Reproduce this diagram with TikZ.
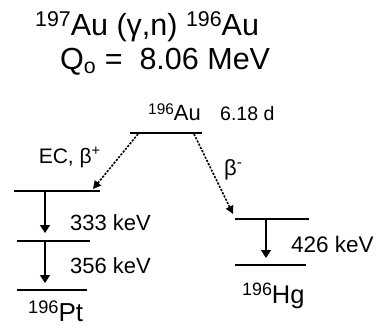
\documentclass[tikz,border=0pt]{standalone}
\usepackage{fontspec}
\setmainfont{Liberation Sans}
\usetikzlibrary{arrows.meta}
\newcommand\isup[1]{\raisebox{.3em}{\scalebox{0.7}{#1}}}
\newcommand\fs[1]{\fontsize{#1}{#1}\selectfont}
\begin{document}
\begin{tikzpicture}[x=1pt,y=-1pt,
  levelline/.style={line width=1.5pt},
  decay/.style={line width=1.6pt,dash pattern=on 2.2pt off 1.4pt,-{Triangle[length=8pt,width=8pt]}},
  gamma/.style={line width=1.6pt,-{Triangle[length=8pt,width=10pt]}},
  lbl/.style={inner sep=0pt,font=\fs{21}}]
\useasboundingbox (0,0) rectangle (377,326);
% title
\node[inner sep=0pt,anchor=base west,font=\fs{30.5}] (t1) at (35,36) {\isup{197}Au (γ,n) \isup{196}Au};
\node[inner sep=0pt,anchor=base west,font=\fs{30.5}] (t2) at (60,70) {Q\textsubscript{o} =\ \ 8.06 MeV};
% levels
\coordinate (au1) at (130,133); \coordinate (au2) at (202,133);
\coordinate (pa1) at (14,191); \coordinate (pa2) at (100,191);
\coordinate (pb1) at (17,241); \coordinate (pb2) at (90,241);
\coordinate (pc1) at (17,290); \coordinate (pc2) at (87,290);
\coordinate (ha1) at (235,219); \coordinate (ha2) at (309,219);
\coordinate (hb1) at (235,265); \coordinate (hb2) at (306,265);
\draw[levelline] (au1) -- (au2);
\draw[levelline] (pa1) -- (pa2);
\draw[levelline] (pb1) -- (pb2);
\draw[levelline] (pc1) -- (pc2);
\draw[levelline] (ha1) -- (ha2);
\draw[levelline] (hb1) -- (hb2);
% labels
\node[lbl,anchor=base west,font=\fs{22}] (aul) at (148,121) {\isup{196}Au};
\node[lbl,anchor=base west,font=\fs{19.5}] (half) at (220,121) {6.18 d};
\node[lbl,anchor=base east] (ec) at (101,163) {EC, β\textsuperscript{+}};
\node[lbl,anchor=base west,font=\fs{22}] (bm) at (224,175) {β\textsuperscript{-}};
\node[lbl,anchor=base west,font=\fs{22}] (g1) at (70,230) {333 keV};
\node[lbl,anchor=base west,font=\fs{22}] (g2) at (70,273) {356 keV};
\node[lbl,anchor=base west,font=\fs{22.5}] (g3) at (291,252) {426 keV};
\node[inner sep=0pt,anchor=base west,font=\fs{26}] (pt) at (28,321) {\isup{196}Pt};
\node[inner sep=0pt,anchor=base west,font=\fs{25.5}] (hg) at (242,303) {\isup{196}Hg};
% decays
\coordinate (ecs) at (138,134); \coordinate (ece) at (93,189);
\coordinate (bms) at (194,134); \coordinate (bme) at (233,214);
\draw[decay] (ecs) -- (ece);
\draw[decay] (bms) -- (bme);
\coordinate (v1s) at (45,191); \coordinate (v1e) at (45,233);
\coordinate (v2s) at (45,241); \coordinate (v2e) at (45,283);
\coordinate (v3s) at (266,219); \coordinate (v3e) at (266,258);
\draw[gamma] (v1s) -- (v1e);
\draw[gamma] (v2s) -- (v2e);
\draw[gamma] (v3s) -- (v3e);
\end{tikzpicture}
\end{document}
